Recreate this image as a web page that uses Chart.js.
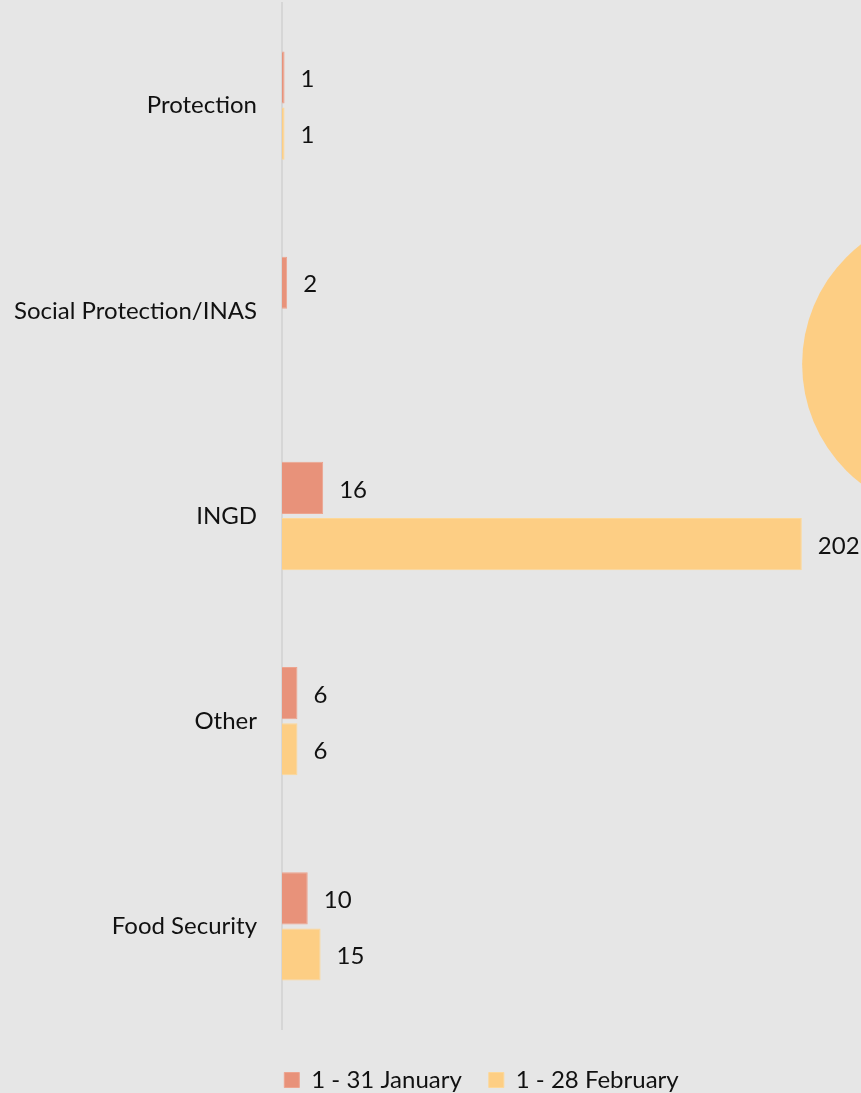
<!DOCTYPE html>
<html>
<head>
<meta charset="utf-8">
<script src="https://cdn.jsdelivr.net/npm/chart.js@4/dist/chart.umd.min.js"></script>
<style>
  html, body { margin: 0; padding: 0; background: #e6e6e6; }
  canvas { display: block; }
</style>
</head>
<body>
<canvas id="c" width="861" height="1093"></canvas>
<script>
const categories = ["Protection", "Social Protection/INAS", "INGD", "Other", "Food Security"];
const seriesNames = ["1 - 31 January", "1 - 28 February"];
const januaryValues = [1, 2, 16, 6, 10];
const februaryValues = [1, null, 202, 6, 15];

const FONT = "Lato, 'Open Sans', sans-serif";
const TEXT = "#111111";

const backdrop = {
  id: "backdrop",
  beforeDraw(chart) {
    const { ctx, width, height } = chart;
    ctx.save();
    ctx.fillStyle = "#e6e6e6";
    ctx.fillRect(0, 0, width, height);
    // decorative shape at the right edge
    ctx.fillStyle = "#fdce84";
    ctx.beginPath();
    ctx.arc(width * 1.107, height * 0.333, 151, 0, Math.PI * 2);
    ctx.fill();
    ctx.restore();
  }
};

const legendPlacement = {
  id: "legendPlacement",
  afterLayout(chart) {
    const lg = chart.legend;
    if (!lg) return;
    lg.left = 102;
    lg.right = chart.width;
    lg.top += 12;
    lg.bottom += 12;
  }
};

const valueLabels = {
  id: "valueLabels",
  afterDatasetsDraw(chart) {
    const { ctx } = chart;
    ctx.save();
    ctx.font = "24px " + FONT;
    ctx.fillStyle = TEXT;
    ctx.textAlign = "left";
    ctx.textBaseline = "middle";
    chart.data.datasets.forEach((ds, di) => {
      const meta = chart.getDatasetMeta(di);
      meta.data.forEach((bar, i) => {
        const v = ds.data[i];
        if (v === null || v === undefined) return;
        ctx.fillText(String(v), bar.x + 16, bar.y + 2);
      });
    });
    ctx.restore();
  }
};

new Chart(document.getElementById("c"), {
  type: "bar",
  data: {
    labels: categories,
    datasets: [
      {
        label: seriesNames[0],
        data: januaryValues,
        backgroundColor: "#e8927a",
        borderColor: "#eda48f",
        borderWidth: 1,
        categoryPercentage: 0.547,
        barPercentage: 0.929
      },
      {
        label: seriesNames[1],
        data: februaryValues,
        backgroundColor: "#fdce84",
        borderColor: "#fdd898",
        borderWidth: 1,
        categoryPercentage: 0.547,
        barPercentage: 0.929
      }
    ]
  },
  options: {
    indexAxis: "y",
    responsive: false,
    animation: false,
    layout: { padding: { left: 0, right: 0, top: 3, bottom: 3 } },
    scales: {
      x: {
        display: false,
        min: 0,
        max: 225
      },
      y: {
        afterFit(scale) {
          scale.width = 282;
          scale.paddingTop = 0;
          scale.paddingBottom = 0;
        },
        grid: { display: false, drawTicks: false },
        border: { display: true, color: "#d6d6d6", width: 2 },
        ticks: {
          padding: 25,
          color: TEXT,
          font: { family: FONT, size: 24 }
        }
      }
    },
    plugins: {
      legend: {
        position: "bottom",
        labels: {
          boxWidth: 15,
          boxHeight: 15,
          padding: 27,
          color: TEXT,
          font: { family: FONT, size: 24 }
        }
      },
      tooltip: { enabled: false }
    }
  },
  plugins: [backdrop, legendPlacement, valueLabels]
});
</script>
</body>
</html>
